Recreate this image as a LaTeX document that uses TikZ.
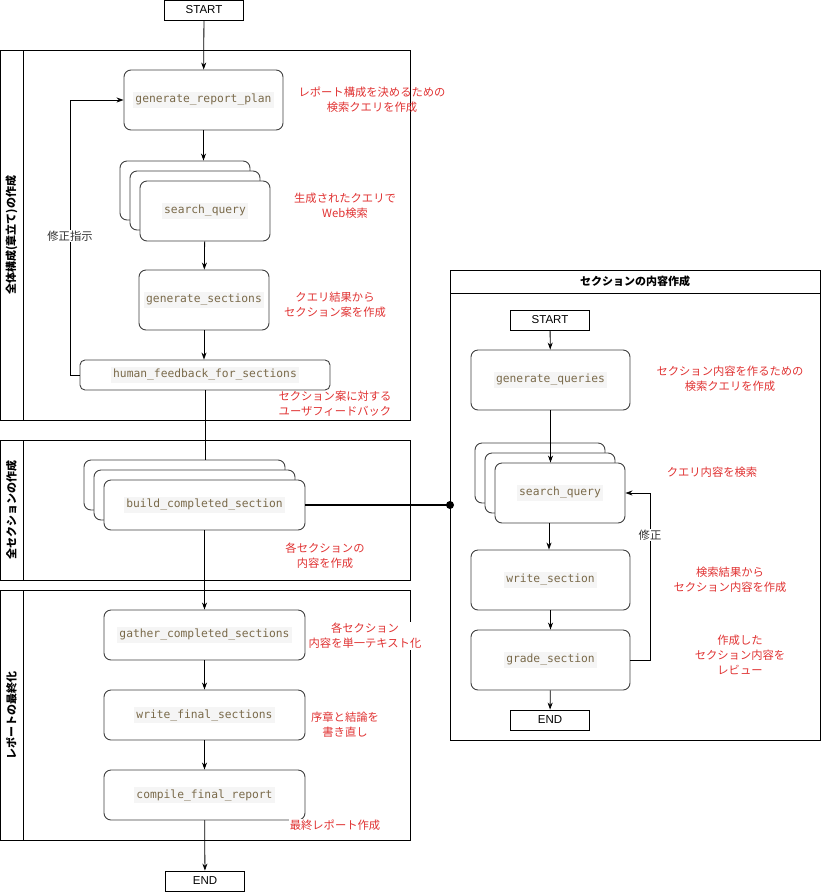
\documentclass[tikz,border=0pt]{standalone}
\usepackage{fontspec}
\setmainfont{Liberation Sans}
\newfontfamily\cjk{Noto Sans CJK JP}
\newfontfamily\mono{DejaVu Sans Mono}
\usetikzlibrary{arrows.meta,positioning}
\definecolor{nred}{HTML}{E03232}
\definecolor{code}{HTML}{7A6A4A}
\definecolor{codebg}{HTML}{F5F5F5}
\begin{document}
\begin{tikzpicture}[x=1pt,y=-1pt,
  box/.style={draw=black!75,line width=0.9pt,rounded corners=7pt,fill=white,inner sep=0},
  term/.style={draw,line width=0.8pt,fill=white,minimum width=79,minimum height=20,inner sep=0,font=\fontsize{11.5}{12}\selectfont},
  ct/.style={fill=codebg,text=code,font=\mono\fontsize{11.3}{13}\selectfont,inner sep=2pt},
  note/.style={text=nred,font=\cjk\fontsize{11.3}{15}\selectfont,align=center,inner sep=1pt},
  lane/.style={draw,line width=0.8pt},
  arr/.style={-{Stealth[length=7pt,width=5pt]},line width=0.8pt},
  ln/.style={line width=0.8pt},
  hd/.style={font=\cjk\bfseries\fontsize{11}{12}\selectfont},
  lbl/.style={font=\cjk\fontsize{11.3}{12}\selectfont,fill=white,inner sep=1pt,text=black!80}]
\useasboundingbox (0,0) rectangle (822,892);
% lanes
\draw[lane] (0,50) rectangle (410,420); \draw[lane] (23,50) -- (23,420);
\draw[lane] (0,440) rectangle (410,580); \draw[lane] (23,440) -- (23,580);
\draw[lane] (0,590) rectangle (410,840); \draw[lane] (23,590) -- (23,840);
\node[rotate=90,hd] (l1) at (11.5,235) {全体構成(章立て)の作成};
\node[rotate=90,hd] (l2) at (11.5,510) {全セクションの作成};
\node[rotate=90,hd] (l3) at (11.5,715) {レポートの最終化};
% right panel
\draw[lane] (450,270) rectangle (820,740); \draw[lane] (450,293) -- (820,293);
\node[hd] (rt) at (635,281.5) {セクションの内容作成};
% left flow
\node[term] (start) at (204,10) {START};
\node[box,minimum width=159,minimum height=60] (grp) at (203.5,100) {};
\node[ct] at (grp) {generate\_report\_plan};
\node[box,minimum width=130,minimum height=59] (sqb1) at (185,190.5) {};
\node[box,minimum width=130,minimum height=59] (sqb2) at (195,200.5) {};
\node[box,minimum width=130,minimum height=60] (sq) at (205,211) {};
\node[ct] at (sq) {search\_query};
\node[box,minimum width=130,minimum height=60] (gs) at (204,300) {};
\node[ct] at (gs) {generate\_sections};
\node[box,minimum width=250,minimum height=30,rounded corners=5pt] (hf) at (205,375) {};
\node[ct] at (hf) {human\_feedback\_for\_sections};
\node[box,minimum width=201,minimum height=50] (bb1) at (184.5,485) {};
\node[box,minimum width=201,minimum height=50] (bb2) at (194.5,495) {};
\node[box,minimum width=201,minimum height=50] (bc) at (204.5,505) {};
\node[ct] at (bc) {build\_completed\_section};
\node[box,minimum width=201,minimum height=50] (gc) at (204.5,635) {};
\node[ct] at (gc) {gather\_completed\_sections};
\node[box,minimum width=201,minimum height=50] (wf) at (204.5,715) {};
\node[ct] at (wf) {write\_final\_sections};
\node[box,minimum width=201,minimum height=50] (cf) at (204.5,795) {};
\node[ct] at (cf) {compile\_final\_report};
\node[term] (end) at (205,881) {END};
\draw[arr] (start) -- (grp);
\draw[arr] (grp.south) -- (grp.south|-sqb1.north);
\draw[arr] (sq) -- (gs);
\draw[arr] (gs) -- (gs|-hf.north);
\coordinate (fb1) at (70,375); \coordinate (fb2) at (70,100);
\draw[arr] (hf.west) -- (fb1) -- (fb2) -- (grp.west);
\node[lbl] (fbl) at (70,236) {修正指示};
\draw[ln] (hf.south) -- (hf.south|-bb1.north);
\draw[arr] (bc.south) -- (gc.north);
\draw[arr] (gc) -- (wf);
\draw[arr] (wf) -- (cf);
\draw[arr] (cf) -- (end);
\coordinate (dot) at (450,505);
\draw[line width=2.4pt] (bc.east) -- (dot);
\fill (dot) circle (4);
% notes left
\node[note] (n1) at (372,100) {レポート構成を決めるための\\検索クエリを作成};
\node[note] (n2) at (345,206) {生成されたクエリで\\Web検索};
\node[note] (n3) at (335,305) {クエリ結果から\\セクション案を作成};
\node[note] (n4) at (335,404) {セクション案に対する\\ユーザフィードバック};
\node[note] (n5) at (325,556) {各セクションの\\内容を作成};
\node[note,fill=white] (n6) at (365,636) {各セクション\\内容を単一テキスト化};
\node[note] (n7) at (345,725) {序章と結論を\\書き直し};
\node[note,fill=white] (n8) at (335,825) {最終レポート作成};
% right flow
\node[term] (s2) at (550,320) {START};
\node[box,minimum width=159,minimum height=60] (gq) at (550.5,380) {};
\node[ct] at (gq) {generate\_queries};
\node[box,minimum width=130,minimum height=60] (rb1) at (540,473) {};
\node[box,minimum width=130,minimum height=60] (rb2) at (550,483) {};
\node[box,minimum width=130,minimum height=60] (rsq) at (560,493) {};
\node[ct] at (rsq) {search\_query};
\node[box,minimum width=159,minimum height=60] (ws) at (550.5,580) {};
\node[ct] at (ws) {write\_section};
\node[box,minimum width=159,minimum height=60] (gr) at (550.5,660) {};
\node[ct] at (gr) {grade\_section};
\node[term] (e2) at (550,720) {END};
\draw[arr] (s2) -- (gq);
\draw[arr] (gq.south) -- (gq.south|-rsq.north);
\draw[arr] (rsq.south-|549,0) -- (ws.north-|549,0);
\draw[arr] (ws) -- (gr);
\draw[arr] (gr) -- (e2);
\coordinate (lp1) at (650,660); \coordinate (lp2) at (650,493);
\draw[arr] (gr.east) -- (lp1) -- (lp2) -- (rsq.east);
\node[lbl] (lpl) at (650,535) {修正};
\node[note] (m1) at (730,379) {セクション内容を作るための\\検索クエリを作成};
\node[note] (m2) at (712,472) {クエリ内容を検索};
\node[note] (m3) at (730,580) {検索結果から\\セクション内容を作成};
\node[note] (m4) at (740,655) {作成した\\セクション内容を\\レビュー};
\end{tikzpicture}
\end{document}
